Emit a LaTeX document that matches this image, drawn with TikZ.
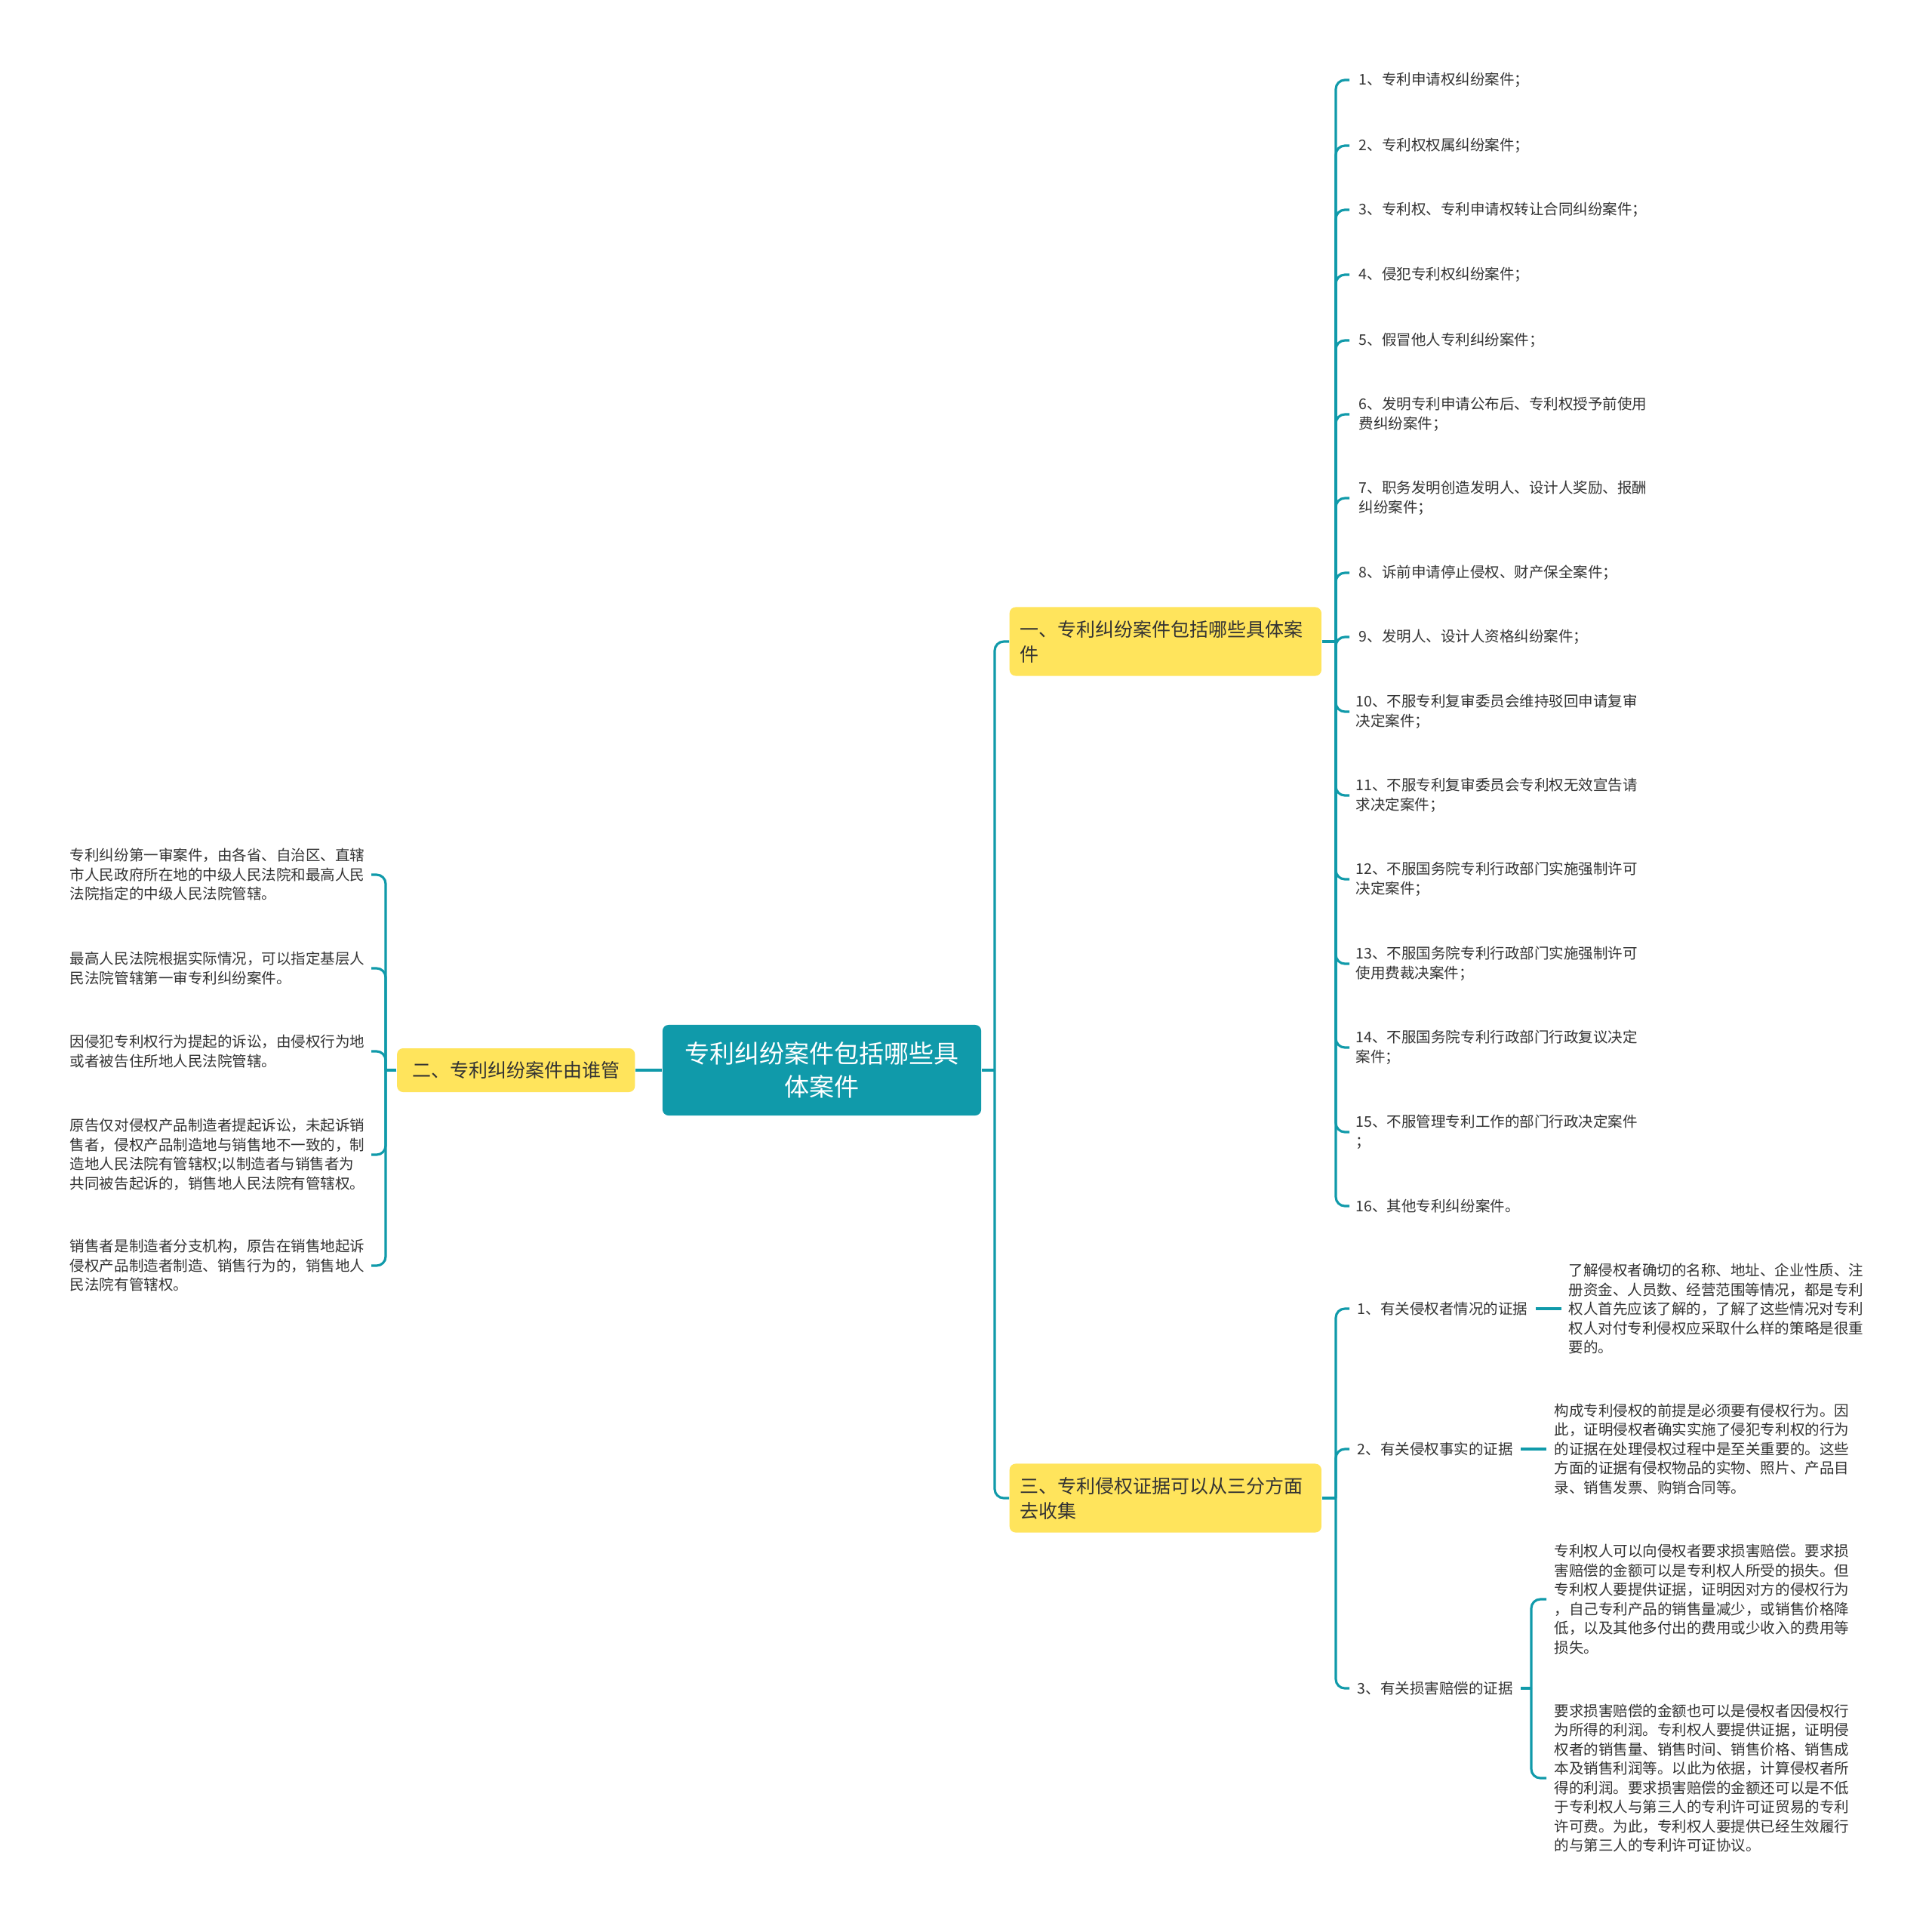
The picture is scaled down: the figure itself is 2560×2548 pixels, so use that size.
\documentclass[tikz,border=0pt]{standalone}
\usepackage{fontspec}
\setmainfont{Noto Sans CJK SC}
\definecolor{mapteal}{RGB}{16,154,170}
\definecolor{mapyellow}{RGB}{255,228,92}
\definecolor{mapgray}{RGB}{51,51,51}
\newcommand{\leaffont}{\fontsize{5.55pt}{7.25pt}\selectfont}

\begin{document}
\begin{tikzpicture}[x=0.01cm, y=-0.01cm,
  link/.style={draw=mapteal, line width=0.9pt, rounded corners=0.12cm},
  rootbox/.style={fill=mapteal, text=white, rounded corners=0.08cm, minimum width=4.22cm,
    minimum height=1.2cm, align=center, font=\fontsize{9.4pt}{12.5pt}\selectfont},
  branch/.style={fill=mapyellow, text=mapgray, rounded corners=0.08cm, inner xsep=0.14cm,
    align=left, font=\fontsize{7.1pt}{9.4pt}\selectfont},
  leaf/.style={text=mapgray, inner xsep=0.08cm, inner ysep=0pt, align=left, font=\leaffont}]
  \useasboundingbox (0,0) rectangle (2560,2548);
  \fill[white] (0,0) rectangle (2560,2548);

  \node[rootbox] (root) at (1089,1418) {专利纠纷案件包括哪些具\\体案件};

  \node[branch, anchor=west, text width=3.85cm, minimum height=0.91cm] (b1) at (1337,850)
    {一、专利纠纷案件包括哪些具体案\\件};
  \node[branch, anchor=east, minimum width=3.15cm, minimum height=0.58cm] (b2) at (842,1418)
    {二、专利纠纷案件由谁管};
  \node[branch, anchor=west, text width=3.85cm, minimum height=0.91cm] (b3) at (1337,1985)
    {三、专利侵权证据可以从三分方面\\去收集};

  \coordinate (j0) at (1318,1418);
  \coordinate (j1) at (1770,850);
  \coordinate (j2) at (511,1418);
  \coordinate (j3) at (1770,1985);
  \coordinate (j4) at (2029,2237);

  \draw[link] (root.east) -- (j0);
  \draw[link] (j0) |- (b1.west);
  \draw[link] (j0) |- (b3.west);
  \draw[link] (root.west) -- (b2.east);

  % 一、案件种类
  \node[leaf, anchor=west, inner xsep=0.12cm] (a1)  at (1788,106)  {1、专利申请权纠纷案件；};
  \node[leaf, anchor=west, inner xsep=0.12cm] (a2)  at (1788,193)  {2、专利权权属纠纷案件；};
  \node[leaf, anchor=west, inner xsep=0.12cm] (a3)  at (1788,278)  {3、专利权、专利申请权转让合同纠纷案件；};
  \node[leaf, anchor=west, inner xsep=0.12cm] (a4)  at (1788,364)  {4、侵犯专利权纠纷案件；};
  \node[leaf, anchor=west, inner xsep=0.12cm] (a5)  at (1788,451)  {5、假冒他人专利纠纷案件；};
  \node[leaf, anchor=west, inner xsep=0.12cm] (a6)  at (1788,549)  {6、发明专利申请公布后、专利权授予前使用\\费纠纷案件；};
  \node[leaf, anchor=west, inner xsep=0.12cm] (a7)  at (1788,660)  {7、职务发明创造发明人、设计人奖励、报酬\\纠纷案件；};
  \node[leaf, anchor=west, inner xsep=0.12cm] (a8)  at (1788,759)  {8、诉前申请停止侵权、财产保全案件；};
  \node[leaf, anchor=west, inner xsep=0.12cm] (a9)  at (1788,844)  {9、发明人、设计人资格纠纷案件；};
  \node[leaf, anchor=west] (a10) at (1788,943)  {10、不服专利复审委员会维持驳回申请复审\\决定案件；};
  \node[leaf, anchor=west] (a11) at (1788,1054) {11、不服专利复审委员会专利权无效宣告请\\求决定案件；};
  \node[leaf, anchor=west] (a12) at (1788,1165) {12、不服国务院专利行政部门实施强制许可\\决定案件；};
  \node[leaf, anchor=west] (a13) at (1788,1277) {13、不服国务院专利行政部门实施强制许可\\使用费裁决案件；};
  \node[leaf, anchor=west] (a14) at (1788,1388) {14、不服国务院专利行政部门行政复议决定\\案件；};
  \node[leaf, anchor=west] (a15) at (1788,1500) {15、不服管理专利工作的部门行政决定案件\\；};
  \node[leaf, anchor=west] (a16) at (1788,1598) {16、其他专利纠纷案件。};

  \draw[link] (b1.east) -- (j1);
  \draw[link] (j1) |- (a1.west);
  \draw[link] (j1) |- (a2.west);
  \draw[link] (j1) |- (a3.west);
  \draw[link] (j1) |- (a4.west);
  \draw[link] (j1) |- (a5.west);
  \draw[link] (j1) |- (a6.west);
  \draw[link] (j1) |- (a7.west);
  \draw[link] (j1) |- (a8.west);
  \draw[link] (j1) |- (a9.west);
  \draw[link] (j1) |- (a10.west);
  \draw[link] (j1) |- (a11.west);
  \draw[link] (j1) |- (a12.west);
  \draw[link] (j1) |- (a13.west);
  \draw[link] (j1) |- (a14.west);
  \draw[link] (j1) |- (a15.west);
  \draw[link] (j1) |- (a16.west);

  % 二、管辖
  \node[leaf, anchor=east] (l1) at (492,1159)
    {专利纠纷第一审案件，由各省、自治区、直辖\\市人民政府所在地的中级人民法院和最高人民\\法院指定的中级人民法院管辖。};
  \node[leaf, anchor=east] (l2) at (492,1283)
    {最高人民法院根据实际情况，可以指定基层人\\民法院管辖第一审专利纠纷案件。};
  \node[leaf, anchor=east] (l3) at (492,1393)
    {因侵犯专利权行为提起的诉讼，由侵权行为地\\或者被告住所地人民法院管辖。};
  \node[leaf, anchor=east] (l4) at (492,1530)
    {原告仅对侵权产品制造者提起诉讼，未起诉销\\售者，侵权产品制造地与销售地不一致的，制\\造地人民法院有管辖权;以制造者与销售者为\\共同被告起诉的，销售地人民法院有管辖权。};
  \node[leaf, anchor=east] (l5) at (492,1677)
    {销售者是制造者分支机构，原告在销售地起诉\\侵权产品制造者制造、销售行为的，销售地人\\民法院有管辖权。};

  \draw[link] (b2.west) -- (j2);
  \draw[link] (j2) |- (l1.east);
  \draw[link] (j2) |- (l2.east);
  \draw[link] (j2) |- (l3.east);
  \draw[link] (j2) |- (l4.east);
  \draw[link] (j2) |- (l5.east);

  % 三、证据
  \node[leaf, anchor=west, inner xsep=0.1cm] (e1) at (1788,1734) {1、有关侵权者情况的证据};
  \node[leaf, anchor=west, inner xsep=0.1cm] (e2) at (1788,1920) {2、有关侵权事实的证据};
  \node[leaf, anchor=west, inner xsep=0.1cm] (e3) at (1788,2237) {3、有关损害赔偿的证据};

  \node[leaf, anchor=west, inner xsep=0.09cm] (d1) at (2069,1734)
    {了解侵权者确切的名称、地址、企业性质、注\\册资金、人员数、经营范围等情况，都是专利\\权人首先应该了解的，了解了这些情况对专利\\权人对付专利侵权应采取什么样的策略是很重\\要的。};
  \node[leaf, anchor=west, inner xsep=0.1cm] (d2) at (2049,1920)
    {构成专利侵权的前提是必须要有侵权行为。因\\此，证明侵权者确实实施了侵犯专利权的行为\\的证据在处理侵权过程中是至关重要的。这些\\方面的证据有侵权物品的实物、照片、产品目\\录、销售发票、购销合同等。};
  \node[leaf, anchor=west, inner xsep=0.1cm] (f1) at (2049,2119)
    {专利权人可以向侵权者要求损害赔偿。要求损\\害赔偿的金额可以是专利权人所受的损失。但\\专利权人要提供证据，证明因对方的侵权行为\\，自己专利产品的销售量减少，或销售价格降\\低，以及其他多付出的费用或少收入的费用等\\损失。};
  \node[leaf, anchor=west, inner xsep=0.1cm] (f2) at (2049,2356)
    {要求损害赔偿的金额也可以是侵权者因侵权行\\为所得的利润。专利权人要提供证据，证明侵\\权者的销售量、销售时间、销售价格、销售成\\本及销售利润等。以此为依据，计算侵权者所\\得的利润。要求损害赔偿的金额还可以是不低\\于专利权人与第三人的专利许可证贸易的专利\\许可费。为此，专利权人要提供已经生效履行\\的与第三人的专利许可证协议。};

  \draw[link] (b3.east) -- (j3);
  \draw[link] (j3) |- (e1.west);
  \draw[link] (j3) |- (e2.west);
  \draw[link] (j3) |- (e3.west);
  \draw[link] (e1.east) -- (d1.west);
  \draw[link] (e2.east) -- (d2.west);
  \draw[link] (e3.east) -- (j4);
  \draw[link] (j4) |- (f1.west);
  \draw[link] (j4) |- (f2.west);
\end{tikzpicture}
\end{document}
